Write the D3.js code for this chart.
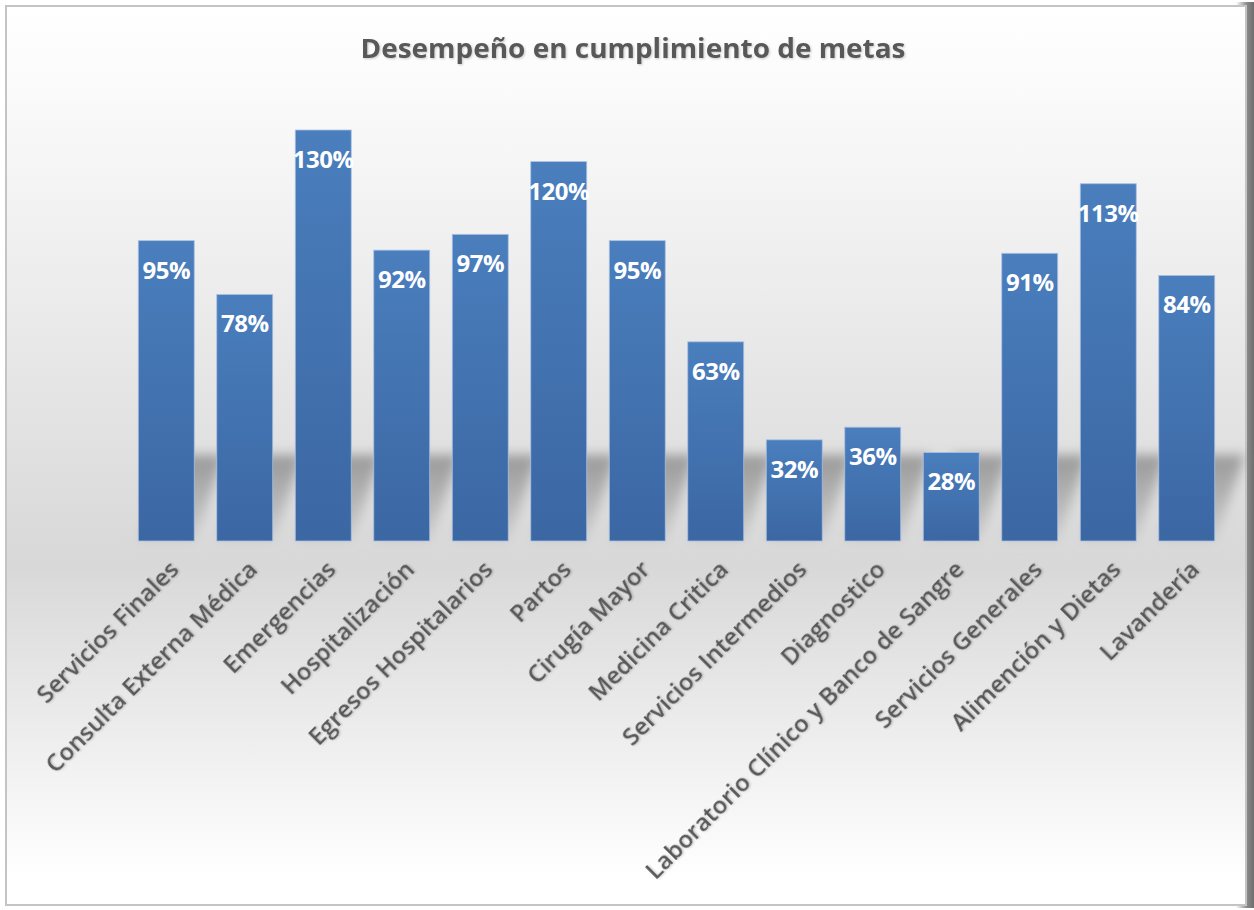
<!DOCTYPE html>
<html>
<head>
<meta charset="utf-8">
<script src="https://cdn.jsdelivr.net/npm/d3@7"></script>
<style>
  body { margin: 0; background: #fff; }
  svg { display: block; }
</style>
</head>
<body>
<div id="chart"></div>
<script>
var categories = ["Servicios Finales", "Consulta Externa Médica", "Emergencias", "Hospitalización",
  "Egresos Hospitalarios", "Partos", "Cirugía Mayor", "Medicina Critica", "Servicios Intermedios",
  "Diagnostico", "Laboratorio Clínico y Banco de Sangre", "Servicios Generales",
  "Alimención y Dietas", "Lavandería"];
var values = [95, 78, 130, 92, 97, 120, 95, 63, 32, 36, 28, 91, 113, 84];
var title = "Desempeño en cumplimiento de metas";

var W = 1254, H = 910;
var baseY = 541;

var svg = d3.select("#chart").append("svg")
  .attr("width", W)
  .attr("height", H);

var defs = svg.append("defs");

var bg = defs.append("linearGradient").attr("id", "bg")
  .attr("x1", 0).attr("y1", 0).attr("x2", 0).attr("y2", 1);
bg.append("stop").attr("offset", "0%").attr("stop-color", "#ffffff");
bg.append("stop").attr("offset", "12%").attr("stop-color", "#f9f9f9");
bg.append("stop").attr("offset", "62%").attr("stop-color", "#d8d8d8");
bg.append("stop").attr("offset", "97%").attr("stop-color", "#ffffff");

var rs = defs.append("linearGradient").attr("id", "rshadow")
  .attr("x1", 0).attr("y1", 0).attr("x2", 1).attr("y2", 0);
rs.append("stop").attr("offset", "0%").attr("stop-color", "#ffffff");
rs.append("stop").attr("offset", "60%").attr("stop-color", "#8a8a8a");
rs.append("stop").attr("offset", "100%").attr("stop-color", "#6e6e6e");

var barGrad = defs.append("linearGradient").attr("id", "barGrad")
  .attr("x1", 0).attr("y1", 0).attr("x2", 0).attr("y2", 1);
barGrad.append("stop").attr("offset", "0%").attr("stop-color", "#4a7ebd");
barGrad.append("stop").attr("offset", "100%").attr("stop-color", "#3b67a3");

// shadow fades towards the baseline
var shGrad = defs.append("linearGradient").attr("id", "shGrad")
  .attr("x1", 0).attr("y1", 0).attr("x2", 0).attr("y2", 1);
shGrad.append("stop").attr("offset", "0%").attr("stop-color", "#7a7a7a");
shGrad.append("stop").attr("offset", "100%").attr("stop-color", "#c8c8c8");

var blur = defs.append("filter").attr("id", "blur")
  .attr("x", "-30%").attr("y", "-30%").attr("width", "160%").attr("height", "160%");
blur.append("feGaussianBlur").attr("stdDeviation", 6);

var txtShadow = defs.append("filter").attr("id", "tshadow")
  .attr("x", "-10%").attr("y", "-10%").attr("width", "120%").attr("height", "130%");
txtShadow.append("feDropShadow").attr("dx", 1).attr("dy", 1).attr("stdDeviation", 0.8)
  .attr("flood-color", "#000").attr("flood-opacity", 0.2);

// frame
svg.append("rect").attr("x", 1236).attr("y", 2).attr("width", 18).attr("height", 906)
  .attr("fill", "url(#rshadow)");
svg.append("rect").attr("x", 6).attr("y", 6).attr("width", 1240).attr("height", 899)
  .attr("fill", "url(#bg)")
  .attr("stroke", "#c4c4c4").attr("stroke-width", 2);

// title
svg.append("text")
  .attr("x", 633).attr("y", 58)
  .attr("text-anchor", "middle")
  .attr("font-family", "'Open Sans', sans-serif")
  .attr("font-weight", 700)
  .attr("font-size", 26)
  .attr("textLength", 545)
  .attr("lengthAdjust", "spacingAndGlyphs")
  .attr("fill", "#595959")
  .attr("filter", "url(#tshadow)")
  .text(title);

var x = d3.scaleBand()
  .domain(categories)
  .range([127, 1226])
  .paddingInner(0.287)
  .paddingOuter(0.1435);

var y = d3.scaleLinear()
  .domain([0, 130])
  .range([baseY, 130]);

// perspective shadow behind bars
svg.append("g").attr("filter", "url(#blur)")
  .selectAll("path")
  .data(values)
  .join("path")
  .attr("fill", "url(#shGrad)")
  .attr("opacity", 0.7)
  .attr("d", function(d, i) {
    var x0 = x(categories[i]), x1 = x0 + x.bandwidth();
    var h = Math.min(baseY - y(d), 86);
    var dx = 30 * h / 86;
    return "M" + x0 + "," + baseY + "L" + x1 + "," + baseY +
      "L" + (x1 + dx) + "," + (baseY - h) + "L" + (x0 + dx) + "," + (baseY - h) + "Z";
  });

// bars
svg.append("g")
  .selectAll("rect")
  .data(values)
  .join("rect")
  .attr("x", function(d, i) { return x(categories[i]); })
  .attr("y", function(d) { return y(d); })
  .attr("width", x.bandwidth())
  .attr("height", function(d) { return baseY - y(d); })
  .attr("fill", "url(#barGrad)")
  .attr("stroke", "#a9c1e3")
  .attr("stroke-width", 0.8);

// data labels
svg.append("g")
  .selectAll("text")
  .data(values)
  .join("text")
  .attr("x", function(d, i) { return x(categories[i]) + x.bandwidth() / 2; })
  .attr("y", function(d) { return y(d) + 38; })
  .attr("text-anchor", "middle")
  .attr("font-family", "'Open Sans', sans-serif")
  .attr("font-weight", 700)
  .attr("font-size", 24)
  .attr("letter-spacing", -0.5)
  .attr("fill", "#ffffff")
  .text(function(d) { return d + "%"; });

// category axis
var xAxis = svg.append("g")
  .attr("transform", "translate(0," + baseY + ")")
  .call(d3.axisBottom(x).tickSize(0).tickPadding(0));
xAxis.select(".domain").remove();
xAxis.selectAll("text")
  .attr("font-family", "'Open Sans', sans-serif")
  .attr("font-weight", 600)
  .attr("font-size", 24)
  .attr("fill", "#595959")
  .attr("filter", "url(#tshadow)")
  .attr("text-anchor", "end")
  .attr("dy", null)
  .attr("transform", "translate(14,30) rotate(-45)");
</script>
</body>
</html>
